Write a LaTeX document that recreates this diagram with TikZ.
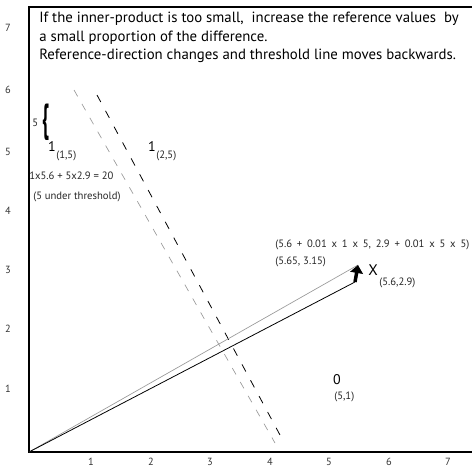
\documentclass[tikz,border=0pt]{standalone}
\usepackage{fontspec}
\setmainfont{PT Sans}
\usetikzlibrary{arrows.meta}
\begin{document}
\begin{tikzpicture}[x=0.75pt,y=-0.75pt,
  axis/.style={line width=0.9pt},
  tick/.style={font=\fontsize{7.8pt}{9pt}\selectfont, text=black!80, inner sep=0pt},
  small/.style={font=\fontsize{8pt}{9.5pt}\selectfont, text=black!85, inner sep=0pt, anchor=west},
  big/.style={font=\fontsize{10.5pt}{12pt}\selectfont, inner sep=0pt},
  greyline/.style={draw=black!40, line width=0.5pt},
  blackline/.style={draw=black, line width=0.6pt},
  greydash/.style={draw=black!40, line width=0.5pt, dash pattern=on 5.5pt off 6.5pt},
  blackdash/.style={draw=black, line width=0.6pt, dash pattern=on 6pt off 7.5pt}]
\useasboundingbox (0,0) rectangle (472,468);
% frame / axes
\coordinate (O) at (29,452);
\coordinate (TL) at (29,7);
\coordinate (TR) at (472,7);
\coordinate (BR) at (472,452);
\draw[axis] (TR) -- (TL) -- (O) -- (BR);
% tick labels
\foreach \v/\y in {7/28,6/90,5/152,4/211,3/270,2/329,1/389}
  \node[tick] (yl\v) at (8,\y) {\v};
\foreach \v/\x in {1/91,2/151,3/210,4/270,5/329,6/389,7/448}
  \node[tick] (xl\v) at (\x,462) {\v};
% title text
\node[anchor=north west, inner sep=0pt, align=left,
  font=\fontsize{11.1pt}{13.8pt}\selectfont] (title) at (39,12)
  {If the inner-product is too small,\ \ increase the reference values\ \ by\\
   a small proportion of the difference.\\
   Reference-direction changes and threshold line moves backwards.};
% threshold lines
\coordinate (g1) at (74,90);
\coordinate (g2) at (275,443);
\coordinate (b1) at (97,95);
\coordinate (b2) at (280,435);
\draw[greydash] (g1) -- (g2);
\draw[blackdash] (b1) -- (b2);
% vectors
\coordinate (G) at (358,265);
\coordinate (X) at (355,282);
\draw[greyline] (O) -- (G);
\draw[blackline] (O) -- (X);
\draw[line width=2.6pt, -{Triangle[width=9.5pt,length=6pt]}] (X) -- (G);
% labels
\node[inner sep=0pt, font=\fontsize{14pt}{14pt}\bfseries] (brace) at (46,122) {\scalebox{1}[2.1]{\{}};
\node[small] (five) at (32,123) {5};
\node[big] (one1) at (52,147) {1};
\node[small] (p15) at (56,156) {(1,5)};
\node[big] (one2) at (152,147) {1};
\node[small] (p25) at (156,156) {(2,5)};
\node[small] (eq) at (29,176) {1x5.6 + 5x2.9 = 20};
\node[small] (under) at (33,197) {(5 under threshold)};
\node[small] (calc) at (275,245) {\spaceskip=3.6pt\relax(5.6 + 0.01 x 1 x 5, 2.9 + 0.01 x 5 x 5)};
\node[small] (new) at (275,262) {(5.65, 3.15)};
\node[big, font=\fontsize{11.5pt}{12pt}\selectfont] (xl) at (373,270) {X};
\node[small] (old) at (379,283) {(5.6,2.9)};
\node[big] (zero) at (337,380) {0};
\node[small] (p51) at (334,397) {(5,1)};
\end{tikzpicture}
\end{document}
